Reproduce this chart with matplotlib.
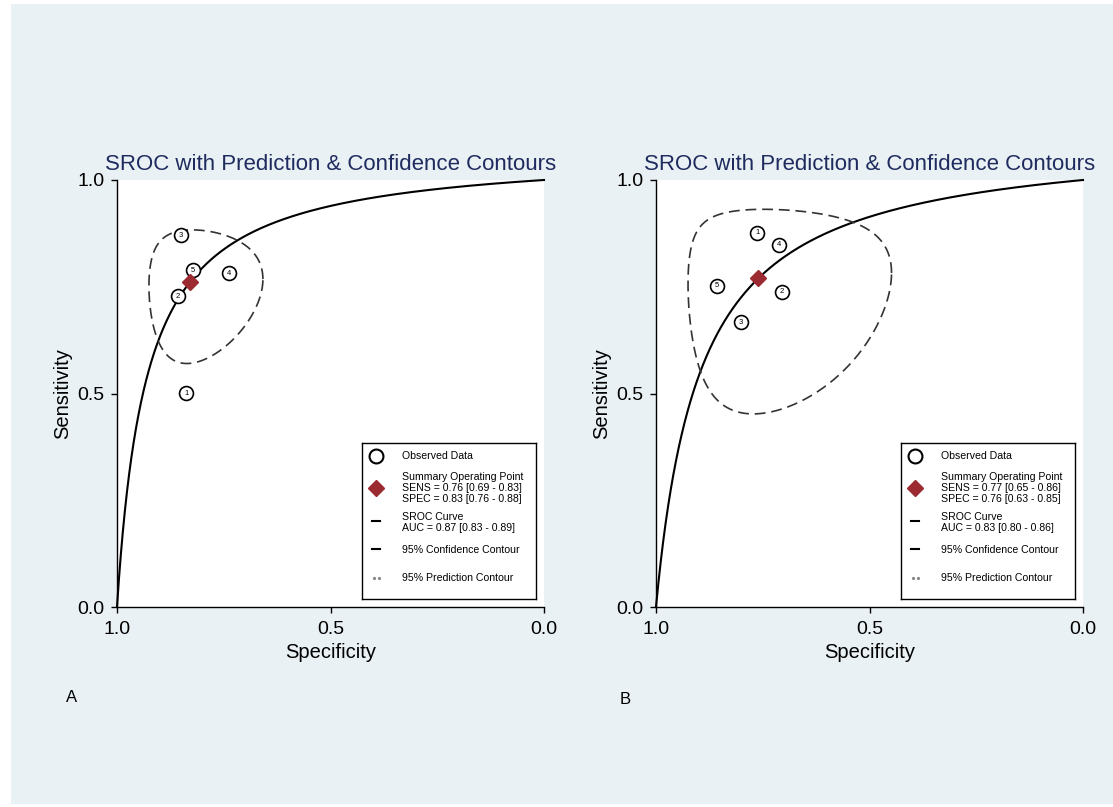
import numpy as np
import matplotlib
matplotlib.use("Agg")
import matplotlib.pyplot as plt
from matplotlib.patches import Rectangle

plt.rcParams['font.family'] = ['Liberation Sans', 'DejaVu Sans']

# ---------------- data ----------------
study_ids = ["1", "2", "3", "4", "5"]

specA = [0.838, 0.857, 0.850, 0.738, 0.822]
sensA = [0.501, 0.728, 0.871, 0.782, 0.789]
summary_sensA, summary_specA = 0.76, 0.83
contourA = dict(a=0.93, b=0.87, rho=0.05)   # logit-space half widths (fpr, sens), correlation
legend_sensA = "SENS = 0.76 [0.69 - 0.83]"
legend_specA = "SPEC = 0.83 [0.76 - 0.88]"
legend_aucA = "AUC = 0.87 [0.83 - 0.89]"

specB = [0.763, 0.705, 0.801, 0.712, 0.857]
sensB = [0.876, 0.738, 0.667, 0.848, 0.752]
summary_sensB, summary_specB = 0.77, 0.76
contourB = dict(a=1.36, b=1.40, rho=0.05)
legend_sensB = "SENS = 0.77 [0.65 - 0.86]"
legend_specB = "SPEC = 0.76 [0.63 - 0.85]"
legend_aucB = "AUC = 0.83 [0.80 - 0.86]"

ticks = [1.0, 0.5, 0.0]
tick_labels = ["1.0", "0.5", "0.0"]
title = "SROC with Prediction & Confidence Contours"
panel_labels = ["A", "B"]

# ---------------- helpers ----------------
def logit(p):
    return np.log(p / (1 - p))

def expit(x):
    return 1 / (1 + np.exp(-x))

BG = "#e9f1f4"
DIAMOND = "#9b2b30"
TITLE_C = "#1f2b5e"

W, H = 1113, 807
fig = plt.figure(figsize=(W / 100, H / 100), dpi=100)
fig.patch.set_facecolor("white")
fig.add_artist(Rectangle((11 / W, 3 / H), 1 - 11 / W, 1 - 7 / H,
                         transform=fig.transFigure, facecolor=BG,
                         edgecolor="none", zorder=-10))

def px_rect(x0, x1, ytop, ybot):
    return [x0 / W, 1 - ybot / H, (x1 - x0) / W, (ybot - ytop) / H]

panels = [
    dict(rect=px_rect(117, 544, 180, 607), leg=px_rect(362, 536, 443, 599),
         spec=specA, sens=sensA, ss=summary_sensA, sp=summary_specA,
         cont=contourA, lsens=legend_sensA, lspec=legend_specA,
         lauc=legend_aucA, letter_xy=(72, 698)),
    dict(rect=px_rect(656, 1083, 180, 607), leg=px_rect(901, 1075, 443, 599),
         spec=specB, sens=sensB, ss=summary_sensB, sp=summary_specB,
         cont=contourB, lsens=legend_sensB, lspec=legend_specB,
         lauc=legend_aucB, letter_xy=(625, 700)),
]

LEG_FS = 7.6

for i, p in enumerate(panels):
    ax = fig.add_axes(p["rect"])
    ax.set_facecolor("white")
    ax.set_xlim(1, 0)
    ax.set_ylim(0, 1)

    # SROC curve (symmetric, through summary point)
    D = logit(p["ss"]) - logit(1 - p["sp"])
    fpr = np.linspace(1e-6, 1 - 1e-9, 2000)
    sens_curve = expit(D + logit(fpr))
    ax.plot(1 - fpr, sens_curve, color="black", lw=1.5, zorder=2, clip_on=False)

    # confidence contour (ellipse in logit space)
    t = np.linspace(0, 2 * np.pi, 400)
    c = p["cont"]
    lf = logit(1 - p["sp"]) + c["a"] * np.cos(t)
    ls = logit(p["ss"]) + c["b"] * (c["rho"] * np.cos(t) + np.sqrt(1 - c["rho"] ** 2) * np.sin(t))
    ax.plot(1 - expit(lf), expit(ls), color="#333333", lw=1.2,
            linestyle=(0, (6.5, 3.5)), zorder=2)

    # observed data
    ax.plot(p["spec"], p["sens"], linestyle="none", marker="o", ms=10,
            mfc="white", mec="black", mew=1.2, zorder=3)
    for sid, x, y in zip(study_ids, p["spec"], p["sens"]):
        ax.text(x, y, sid, ha="center", va="center", fontsize=5.5, zorder=4)

    # summary point
    ax.plot([p["sp"]], [p["ss"]], linestyle="none", marker="D", ms=8,
            color=DIAMOND, zorder=5)

    # axes styling
    for s in ["top", "right"]:
        ax.spines[s].set_visible(False)
    ax.spines["left"].set_linewidth(1.0)
    ax.spines["bottom"].set_linewidth(1.0)
    ax.set_xticks(ticks)
    ax.set_xticklabels(tick_labels)
    ax.set_yticks(ticks)
    ax.set_yticklabels(tick_labels)
    ax.tick_params(direction="out", length=4, width=1, labelsize=14,
                   colors="black")
    ax.tick_params(axis="x", pad=6)
    ax.tick_params(axis="y", pad=5)
    ax.set_xlabel("Specificity", fontsize=14.5, labelpad=4)
    ax.set_ylabel("Sensitivity", fontsize=14.5, labelpad=4)
    ax.set_title(title, fontsize=16, color=TITLE_C, pad=7)

    # legend box (drawn as a small inset in pixel units)
    lg = fig.add_axes(p["leg"])
    lg.set_xlim(0, 174)
    lg.set_ylim(156, 0)
    lg.set_xticks([])
    lg.set_yticks([])
    lg.set_facecolor("white")
    for s in lg.spines.values():
        s.set_linewidth(1.0)
        s.set_color("black")
    sx, tx = 14, 40
    rows = [
        ("obs", 13, "Observed Data"),
        ("sum", 45, "Summary Operating Point\n" + p["lsens"] + "\n" + p["lspec"]),
        ("sroc", 79.5, "SROC Curve\n" + p["lauc"]),
        ("conf", 107, "95% Confidence Contour"),
        ("pred", 135, "95% Prediction Contour"),
    ]
    for kind, y, label in rows:
        if kind == "obs":
            lg.plot([sx], [y], marker="o", ms=10, mfc="white", mec="black",
                    mew=1.5, linestyle="none")
        elif kind == "sum":
            lg.plot([sx], [y], marker="D", ms=8, color=DIAMOND, linestyle="none")
        elif kind in ("sroc", "conf"):
            lg.plot([sx - 4, sx + 4], [y - 1.5, y - 1.5], color="black", lw=1.5)
        else:
            lg.plot([sx - 2.5, sx + 2.5], [y, y], linestyle="none", marker="o",
                    ms=1.3, color="#888888")
        lg.text(tx, y, label, fontsize=LEG_FS, ha="left", va="center",
                linespacing=1.12)

    fig.text(p["letter_xy"][0] / W, 1 - p["letter_xy"][1] / H, panel_labels[i],
             fontsize=12, ha="center", va="center")

fig.savefig("out.png", dpi=100, facecolor=fig.get_facecolor())
